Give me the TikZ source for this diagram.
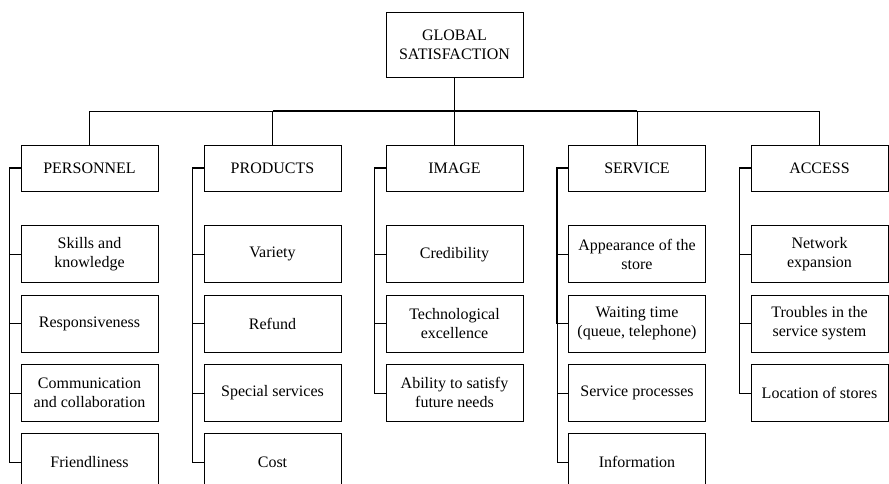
\documentclass[tikz,border=0pt]{standalone}
\usepackage{fontspec}
\setmainfont{Liberation Serif}
\usetikzlibrary{positioning}

\begin{document}
\begin{tikzpicture}[x=1pt, y=1pt, node distance=11.5pt,
  box/.style={draw, rectangle, line width=0.8pt, minimum width=137pt, align=center, inner sep=2pt, font=\fontsize{16}{19}\selectfont},
  head/.style={box, minimum height=46pt},
  item/.style={box, minimum height=57pt},
  link/.style={line width=0.8pt},
  bus/.style={line width=1.6pt}]
\useasboundingbox (0,0) rectangle (889,-484);
% Nodes
\node[box, minimum height=65pt] (global) at (454.5,-44.5) {GLOBAL\\SATISFACTION};

\node[head] (pers) at (89.5,-168) {PERSONNEL};
\node[head] (prod) at (272.5,-168) {PRODUCTS};
\node[head] (img) at (454.5,-168) {IMAGE};
\node[head] (serv) at (637,-168) {SERVICE};
\node[head] (acc) at (819.5,-168) {ACCESS};

\node[item, below=34pt of pers] (pers1) {Skills and\\knowledge};
\node[item, below=of pers1] (pers2) {Responsiveness};
\node[item, below=of pers2] (pers3) {Communication\\and collaboration};
\node[item, below=of pers3] (pers4) {Friendliness};

\node[item, below=34pt of prod] (prod1) {Variety};
\node[item, below=of prod1] (prod2) {Refund};
\node[item, below=of prod2] (prod3) {Special services};
\node[item, below=of prod3] (prod4) {Cost};

\node[item, below=34pt of img] (img1) {Credibility};
\node[item, below=of img1] (img2) {Technological\\excellence};
\node[item, below=of img2] (img3) {Ability to satisfy\\future needs};

\node[item, below=34pt of serv] (serv1) {Appearance of the\\store};
\node[item, below=of serv1] (serv2) {Waiting time\\(queue, telephone)};
\node[item, below=of serv2] (serv3) {Service processes};
\node[item, below=of serv3] (serv4) {Information};

\node[item, below=34pt of acc] (acc1) {Network\\expansion};
\node[item, below=of acc1] (acc2) {Troubles in the\\service system};
\node[item, below=of acc2] (acc3) {Location of stores};

% Lines
\coordinate (hub) at (454.5,-111);
\draw[link] (pers.north) |- (hub) -| (acc.north);
\foreach \c in {prod, img, serv}
  \draw[link] (\c.north) -- (\c.north |- hub);
\draw[bus] (global.south) -- (hub);
\draw[bus] (hub -| prod.north) -- (hub -| serv.north);

\foreach \c/\n in {pers/4, prod/4, img/3, serv/4, acc/3} {
  \draw[bus] (\c.west) -- ++(-11,0) coordinate (\c-top) -- (\c-top |- \c2.west);
  \draw[link] (\c-top) |- (\c\n.west);
  \foreach \k in {1,...,\n}
    \draw[link] (\c\k.west) -- (\c\k.west -| \c-top);
}

\end{tikzpicture}
\end{document}
